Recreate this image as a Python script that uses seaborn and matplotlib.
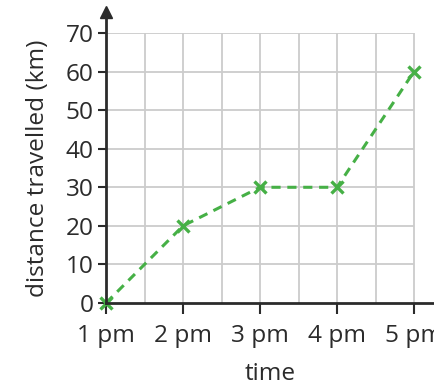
import numpy as np
import pandas as pd
import matplotlib
matplotlib.use("Agg")
import matplotlib.pyplot as plt
import seaborn as sns

times = ["1 pm", "2 pm", "3 pm", "4 pm", "5 pm"]
distance = [0, 20, 30, 30, 60]
y_ticks = [0, 10, 20, 30, 40, 50, 60, 70]

sns.set_style("white")
plt.rcParams['font.family'] = ['Open Sans', 'DejaVu Sans']

W, H = 434, 386
fig = plt.figure(figsize=(W / 100, H / 100), dpi=100)
x0, x5 = 106, 414
y0, y70 = 303, 33
ax = fig.add_axes([x0 / W, (H - y0) / H, (W - x0) / W, (y0 - y70) / H])

xmax = (W - x0) / ((x5 - x0) / 4)
ax.set_xlim(0, xmax)
ax.set_ylim(0, 70)

grid_c = "#cccccc"
ax.hlines(y_ticks[1:], 0, 4, color=grid_c, lw=1.3, zorder=1)
ax.vlines(np.arange(0.5, 4.01, 0.5), 0, 70, color=grid_c, lw=1.3, zorder=1)

df = pd.DataFrame({"x": np.arange(len(times)), "d": distance})
sns.lineplot(data=df, x="x", y="d", ax=ax, color="#46b046", linestyle=(0, (3, 2.2)),
             lw=2.2, marker="x", markersize=8, markeredgewidth=2.4,
             markeredgecolor="#46b046", zorder=3, clip_on=False)

dark = "#2b2b2b"
for s in ["top", "right"]:
    ax.spines[s].set_visible(False)
ax.spines["left"].set_color(dark)
ax.spines["bottom"].set_color(dark)
ax.spines["left"].set_linewidth(2)
ax.spines["bottom"].set_linewidth(2)
ax.spines["left"].set_zorder(4)
ax.spines["bottom"].set_zorder(4)
ytop = 70 + 21 / ((y0 - y70) / 70)
ax.spines["left"].set_bounds(0, ytop)

# arrow on y axis
ax.plot([0], [ytop], marker="^", color=dark, markersize=9, clip_on=False, zorder=5)

fs = 17.6
ax.set_xticks(range(len(times)))
ax.set_xticklabels(times)
ax.set_yticks(y_ticks)
ax.tick_params(axis="x", direction="out", length=8, width=1.5, color=dark,
               labelsize=fs, labelcolor=dark, pad=7)
ax.tick_params(axis="y", direction="out", length=6, width=1.5, color=dark,
               labelsize=fs, labelcolor=dark, pad=3, left=True)
ax.tick_params(axis="x", bottom=True)

ax.set_xlabel("time", fontsize=fs, color=dark, labelpad=10)
ax.set_ylabel("distance travelled (km)", fontsize=fs, color=dark, labelpad=11)

fig.savefig("out.png", dpi=100)
